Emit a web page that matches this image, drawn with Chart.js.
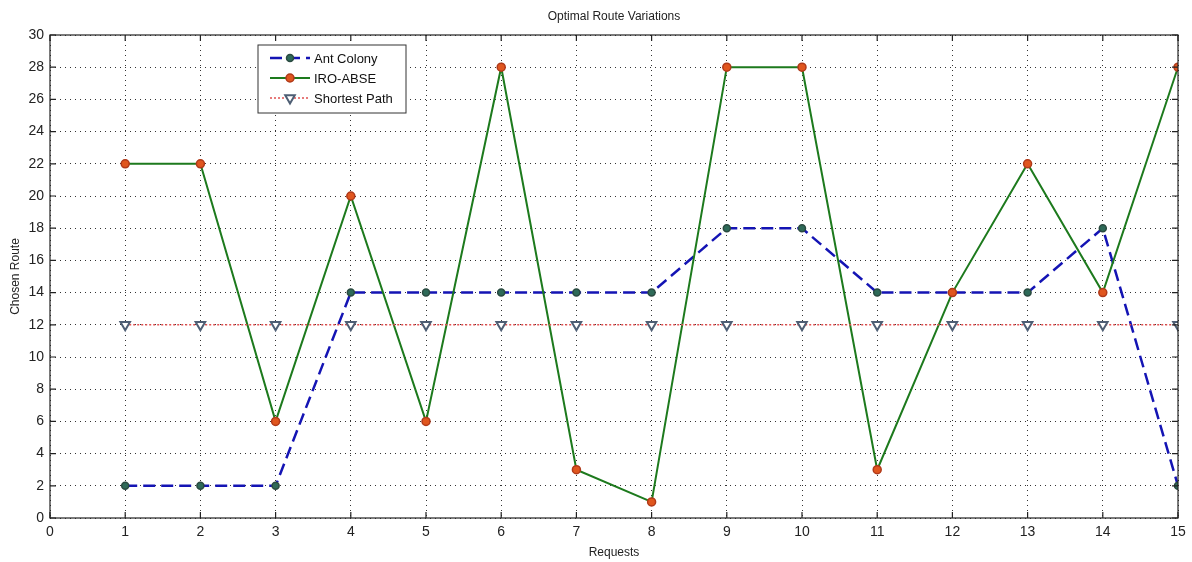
<!DOCTYPE html>
<html>
<head>
<meta charset="utf-8">
<script src="https://cdn.jsdelivr.net/npm/chart.js@4.4.0/dist/chart.umd.min.js"></script>
<style>
  html, body { margin: 0; padding: 0; background: #fff; }
  #wrap { width: 1192px; height: 562px; }
</style>
</head>
<body>
<div id="wrap"><canvas id="chart" width="1192" height="562"></canvas></div>
<script>
// chart values
const requests = [1, 2, 3, 4, 5, 6, 7, 8, 9, 10, 11, 12, 13, 14, 15];
const antColony = [2, 2, 2, 14, 14, 14, 14, 14, 18, 18, 14, 14, 14, 18, 2];
const iroAbse = [22, 22, 6, 20, 6, 28, 3, 1, 28, 28, 3, 14, 22, 14, 28];
const shortestPath = [12, 12, 12, 12, 12, 12, 12, 12, 12, 12, 12, 12, 12, 12, 12];
const seriesNames = ['Ant Colony', 'IRO-ABSE', 'Shortest Path'];

const FONT = 'Liberation Sans, Arial, sans-serif';
const toPts = (ys) => ys.map((y, i) => ({ x: requests[i], y: y }));

// matlab-ish box, inward ticks, title and legend drawn after the chart
const matlabBits = {
    id: 'matlabBits',
    afterDraw(chart) {
        const ctx = chart.ctx;
        const a = chart.chartArea;
        const xs = chart.scales.x, ys = chart.scales.y;
        ctx.save();
        ctx.strokeStyle = '#222';
        ctx.lineWidth = 1.2;
        ctx.setLineDash([]);
        ctx.strokeRect(a.left, a.top, a.right - a.left, a.bottom - a.top);
        const t = 6;
        ctx.beginPath();
        xs.ticks.forEach(tk => {
            const px = xs.getPixelForValue(tk.value);
            ctx.moveTo(px, a.bottom); ctx.lineTo(px, a.bottom - t);
            ctx.moveTo(px, a.top); ctx.lineTo(px, a.top + t);
        });
        ys.ticks.forEach(tk => {
            const py = ys.getPixelForValue(tk.value);
            ctx.moveTo(a.left, py); ctx.lineTo(a.left + t, py);
            ctx.moveTo(a.right, py); ctx.lineTo(a.right - t, py);
        });
        ctx.stroke();

        // title
        ctx.fillStyle = '#222';
        ctx.font = '12px ' + FONT;
        ctx.textAlign = 'center';
        ctx.textBaseline = 'middle';
        ctx.fillText('Optimal Route Variations', (a.left + a.right) / 2, 17);

        // legend box
        const lx = 258, ly = 45, lw = 148, lh = 68;
        ctx.fillStyle = '#fff';
        ctx.fillRect(lx, ly, lw, lh);
        ctx.strokeStyle = '#333';
        ctx.lineWidth = 1;
        ctx.strokeRect(lx, ly, lw, lh);
        ctx.font = '13px ' + FONT;
        ctx.textAlign = 'left';
        chart.data.datasets.forEach((ds, i) => {
            const yy = ly + 13 + i * 20;
            ctx.strokeStyle = ds.borderColor;
            ctx.lineWidth = ds.borderWidth;
            ctx.setLineDash(ds.borderDash || []);
            ctx.beginPath();
            ctx.moveTo(lx + 12, yy); ctx.lineTo(lx + 52, yy);
            ctx.stroke();
            ctx.setLineDash([]);
            ctx.lineWidth = ds.pointBorderWidth;
            ctx.strokeStyle = ds.pointBorderColor;
            ctx.fillStyle = ds.pointBackgroundColor;
            Chart.helpers.drawPoint(ctx, {
                pointStyle: ds.pointStyle, rotation: ds.pointRotation || 0,
                radius: ds.pointRadius, borderWidth: ds.pointBorderWidth
            }, lx + 32, yy);
            ctx.fillStyle = '#111';
            ctx.fillText(ds.label, lx + 56, yy + 1);
        });
        ctx.restore();
    }
};

new Chart(document.getElementById('chart'), {
    type: 'line',
    data: {
        datasets: [
            {
                label: seriesNames[0],
                data: toPts(antColony),
                borderColor: '#1414b4',
                borderWidth: 2.5,
                borderDash: [12, 6],
                pointStyle: 'circle',
                pointRadius: 3.5,
                pointBackgroundColor: '#2e6a58',
                pointBorderColor: '#2a4a40',
                pointBorderWidth: 1.5,
                order: 2
            },
            {
                label: seriesNames[1],
                data: toPts(iroAbse),
                borderColor: '#1d7a1d',
                borderWidth: 2,
                pointStyle: 'circle',
                pointRadius: 4,
                pointBackgroundColor: '#e0561e',
                pointBorderColor: '#b03a1a',
                pointBorderWidth: 1.5,
                order: 1
            },
            {
                label: seriesNames[2],
                data: toPts(shortestPath),
                borderColor: '#e05050',
                borderWidth: 1.5,
                borderDash: [2, 2],
                pointStyle: 'triangle',
                pointRotation: 180,
                pointRadius: 5.5,
                pointBackgroundColor: '#ffffff',
                pointBorderColor: '#4e5e74',
                pointBorderWidth: 2,
                order: 0
            }
        ]
    },
    options: {
        responsive: false,
        animation: false,
        layout: { padding: { top: 35, right: 14, left: 0, bottom: 0 } },
        plugins: {
            legend: { display: false },
            title: { display: false },
            tooltip: { enabled: false }
        },
        scales: {
            x: {
                type: 'linear',
                min: 0,
                max: 15,
                afterFit: s => { s.height = 44; },
                ticks: { stepSize: 1, color: '#222', font: { size: 14, family: FONT }, padding: 6 },
                grid: { color: '#333', lineWidth: 1, tickLength: 0, drawTicks: false },
                border: { display: false, dash: [1, 4] },
                title: { display: true, text: 'Requests', color: '#222', font: { size: 12, family: FONT }, padding: { top: 0, bottom: 2 } }
            },
            y: {
                min: 0,
                max: 30,
                afterFit: s => { s.width = 50; },
                ticks: { stepSize: 2, color: '#222', font: { size: 14, family: FONT }, padding: 6 },
                grid: { color: '#333', lineWidth: 1, drawTicks: false },
                border: { display: false, dash: [1, 4] },
                title: { display: true, text: 'Chosen Route', color: '#222', font: { size: 12, family: FONT }, padding: { top: 8, bottom: 4 } }
            }
        }
    },
    plugins: [matlabBits]
});
</script>
</body>
</html>
